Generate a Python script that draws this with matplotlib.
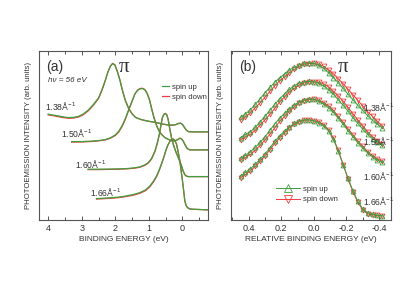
import matplotlib
matplotlib.use('Agg')
import matplotlib.pyplot as plt
from matplotlib.ticker import MultipleLocator

plt.rcParams['font.family'] = ['Liberation Sans', 'DejaVu Sans']
plt.rcParams['mathtext.fontset'] = 'custom'
plt.rcParams['mathtext.rm'] = 'Liberation Sans'
plt.rcParams['mathtext.it'] = 'Liberation Sans:italic'

green = '#3f9f3f'
red = '#f03c3c'
text_col = '#333333'
spine_col = '#555555'

# ---- panel (a): EDCs, binding energy (eV) and intensity (arb.)
a_labels = ['1.38', '1.50', '1.60', '1.66']

a_e_138 = [4.00, 3.85, 3.70, 3.55, 3.40, 3.25, 3.10, 2.95, 2.80, 2.65, 2.50, 2.40, 2.30, 2.22,
           2.15, 2.08, 2.01, 1.94, 1.86, 1.78, 1.70, 1.60, 1.50, 1.40, 1.25, 1.07, 0.90, 0.77,
           0.60, 0.45, 0.30, 0.20, 0.12, 0.06, 0.00, -0.06, -0.12, -0.18, -0.25, -0.78]
a_up_138 = [105.7, 104.8, 104.0, 103.0, 102.3, 102.5, 103.5, 106.0, 110.0, 115.5, 122.0, 130.0,
            139.5, 148.0, 153.5, 156.3, 154.5, 148.0, 139.0, 128.0, 119.0, 111.0, 106.0, 102.5,
            100.5, 99.0, 98.0, 97.3, 96.0, 95.0, 94.8, 95.2, 96.2, 96.7, 95.5, 92.5, 89.7, 88.3,
            88.0, 88.0]
a_dn_138 = [105.0, 104.2, 103.2, 102.3, 101.6, 101.8, 102.8, 105.2, 109.2, 114.8, 121.3, 129.3,
            139.0, 147.8, 153.6, 156.5, 155.0, 148.8, 139.8, 128.8, 119.6, 111.4, 106.2, 102.6,
            100.5, 99.0, 98.0, 97.1, 95.8, 95.0, 94.6, 95.3, 96.5, 96.8, 95.4, 92.2, 89.5, 88.2,
            88.0, 88.0]

a_e_150 = [3.30, 3.00, 2.70, 2.50, 2.30, 2.15, 2.00, 1.90, 1.80, 1.70, 1.60, 1.50, 1.42, 1.34,
           1.26, 1.19, 1.12, 1.05, 0.98, 0.92, 0.85, 0.77, 0.70, 0.63, 0.53, 0.43, 0.33, 0.23,
           0.15, 0.08, 0.03, -0.02, -0.08, -0.14, -0.22, -0.78]
a_up_150 = [78.3, 78.3, 78.8, 79.3, 80.3, 82.0, 85.0, 88.5, 94.0, 101.5, 110.5, 119.0, 125.7,
            129.5, 131.0, 131.3, 130.0, 126.0, 119.5, 111.0, 102.0, 94.0, 89.0, 85.7, 82.5, 80.7,
            79.3, 78.8, 80.0, 81.5, 81.0, 79.0, 75.0, 71.5, 70.0, 70.0]
a_dn_150 = [77.8, 77.9, 78.4, 79.0, 80.0, 81.6, 84.4, 87.8, 93.2, 100.6, 109.8, 118.6, 125.6,
            129.7, 131.4, 131.6, 130.4, 126.6, 120.2, 111.8, 102.8, 94.6, 89.3, 85.8, 82.4, 80.6,
            79.2, 78.9, 80.3, 81.8, 81.1, 78.8, 74.7, 71.3, 70.0, 70.0]

a_e_160 = [2.81, 2.50, 2.20, 1.90, 1.67, 1.45, 1.27, 1.12, 1.02, 0.92, 0.82, 0.75, 0.69, 0.64,
           0.60, 0.55, 0.51, 0.47, 0.43, 0.38, 0.33, 0.28, 0.23, 0.18, 0.13, 0.08, 0.03, -0.02,
           -0.07, -0.12, -0.17, -0.78]
a_up_160 = [50.7, 50.7, 50.8, 51.0, 51.3, 52.0, 53.0, 55.0, 57.3, 61.5, 69.0, 77.0, 85.7, 95.0,
            102.3, 105.5, 106.3, 105.0, 100.7, 91.0, 82.3, 76.0, 71.0, 66.5, 62.7, 58.5, 54.3,
            49.0, 45.3, 43.8, 43.3, 43.3]
a_dn_160 = [50.3, 50.3, 50.5, 50.7, 51.0, 51.6, 52.6, 54.5, 56.8, 60.8, 68.2, 76.2, 85.0, 94.6,
            102.2, 105.7, 106.5, 105.4, 101.3, 91.8, 83.0, 76.6, 71.4, 66.8, 62.8, 58.6, 54.2,
            48.8, 45.1, 43.7, 43.3, 43.3]

a_e_166 = [2.56, 2.30, 2.06, 1.85, 1.67, 1.45, 1.27, 1.10, 0.97, 0.87, 0.77, 0.70, 0.63, 0.56,
           0.50, 0.44, 0.38, 0.33, 0.28, 0.23, 0.18, 0.13, 0.08, 0.04, 0.00, -0.04, -0.07, -0.11,
           -0.15, -0.22, -0.29, -0.78]
a_up_166 = [21.3, 21.8, 22.3, 23.0, 24.0, 25.5, 27.3, 30.0, 34.0, 38.5, 44.0, 49.5, 55.7, 62.5,
            69.0, 74.5, 78.3, 80.2, 80.7, 79.5, 75.7, 68.0, 59.0, 49.0, 39.0, 28.0, 19.0, 14.5,
            12.3, 11.0, 10.7, 10.0]
a_dn_166 = [20.8, 21.3, 21.8, 22.5, 23.4, 24.8, 26.6, 29.2, 33.2, 37.6, 43.2, 48.8, 55.0, 62.0,
            68.6, 74.3, 78.2, 80.3, 81.0, 79.9, 76.2, 68.6, 59.6, 49.4, 39.2, 28.0, 18.8, 14.3,
            12.2, 11.0, 10.7, 10.0]

# ---- panel (b): relative binding energy (eV)
b_e = [0.45, 0.42, 0.39, 0.36, 0.33, 0.30, 0.27, 0.24, 0.21, 0.18, 0.15, 0.12, 0.09, 0.06, 0.03,
       0.00, -0.03, -0.06, -0.09, -0.12, -0.15, -0.18, -0.21, -0.24, -0.27, -0.30, -0.33, -0.36,
       -0.39, -0.42]

b_up_138 = [102.5, 106, 110, 115.5, 121, 127, 132.5, 137.5, 142, 146, 150, 152.5, 155, 156.5, 157,
            156.5, 154.5, 151.5, 147, 142, 137, 131.5, 125.5, 120, 114.5, 109.5, 104, 99.5, 95.5, 92]
b_dn_138 = [100, 103, 107, 112, 117, 122.5, 128.5, 134, 139, 143, 147, 150.5, 153.5, 155.5, 156.3,
            156.5, 155.5, 153.5, 150, 146, 141, 136, 130.5, 125, 119.5, 114, 108, 103.5, 98.5, 94]

b_up_150 = [82, 85.5, 88, 92.5, 98, 103.5, 109.5, 115.5, 121, 126, 130.5, 134, 137, 138, 138.5,
            138, 136.5, 134, 130, 125.5, 120, 114.5, 108.5, 102, 96.5, 90.5, 85.5, 81, 78, 74.5]
b_dn_150 = [80, 83, 85.5, 89.5, 95, 100, 105.5, 111.5, 118, 123, 128, 131.5, 135, 137, 138,
            138, 137.5, 136, 133, 128.5, 124, 118.5, 112.5, 106, 100, 94, 88, 83, 79, 75.5]

b_up_160 = [62, 64.5, 68, 72.5, 77.5, 83, 89.5, 96, 101.5, 106.5, 111, 115, 118, 120, 121,
            120.5, 118.5, 116, 112, 107.5, 101.5, 95.5, 89, 83, 77, 71.5, 67, 63, 60, 57.5]
b_dn_160 = [60, 62.5, 65.5, 69.5, 74.5, 80, 85.5, 92, 98.5, 103.5, 109, 113, 117, 119, 120.3,
            120.5, 119.5, 117, 114, 109.5, 103.5, 97.5, 91, 85, 79, 73.5, 68, 64, 61, 58.5]

b_up_166 = [44, 47.5, 51, 55.5, 60.5, 66, 72, 78.5, 84, 89, 93, 96.5, 99, 100, 100,
            99, 97, 94, 89, 80.5, 68.5, 55, 41.5, 29, 18.5, 11, 7, 5.5, 4.5, 4]
b_dn_166 = [42, 45.5, 49, 53.5, 58.5, 64, 70, 76.5, 82, 87, 92, 95.5, 98, 99.5, 100,
            99, 98, 95, 90, 81.5, 69.5, 55, 40.5, 28, 17.5, 10, 6, 5, 4.5, 4]


def style_axis(ax, major, minor):
    for s in ax.spines.values():
        s.set_color(spine_col)
        s.set_linewidth(0.8)
    ax.xaxis.set_major_locator(MultipleLocator(major))
    ax.xaxis.set_minor_locator(MultipleLocator(minor))
    ax.tick_params(axis='x', which='both', direction='in', top=True, colors=spine_col,
                   labelcolor=text_col, labelsize=6.5, width=0.7, pad=3)
    ax.tick_params(axis='x', which='major', length=3)
    ax.tick_params(axis='x', which='minor', length=2)
    ax.set_yticks([])
    ax.set_ylabel('PHOTOEMISSION INTENSITY (arb. units)', fontsize=5.6, color=text_col, labelpad=5)


def k_label(v):
    return v + 'Å$^{-1}$'


fig = plt.figure(figsize=(4.15, 2.94), dpi=100)
ax1 = fig.add_axes([0.095, 0.252, 0.407, 0.575])
ax2 = fig.add_axes([0.556, 0.252, 0.385, 0.575])

# panel (a)
a_curves = [(a_e_138, a_up_138, a_dn_138), (a_e_150, a_up_150, a_dn_150),
            (a_e_160, a_up_160, a_dn_160), (a_e_166, a_up_166, a_dn_166)]
for i, (e, up, dn) in enumerate(a_curves):
    ax1.plot(e, dn, color=red, lw=0.9, label='spin down' if i == 0 else None)
    ax1.plot(e, up, color=green, lw=0.9, label='spin up' if i == 0 else None)

ax1.set_xlim(4.26, -0.77)
ax1.set_ylim(0, 169)
style_axis(ax1, 1, 0.5)
ax1.set_xlabel('BINDING ENERGY (eV)', fontsize=6, color=text_col, labelpad=2)

a_label_pos = [(4.08, 114), (3.63, 87), (3.20, 56), (2.76, 28)]
for lab, (x, y) in zip(a_labels, a_label_pos):
    ax1.text(x, y, k_label(lab), fontsize=6.2, color=text_col, va='center', ha='left')

ax1.text(0.04, 0.905, '(a)', transform=ax1.transAxes, fontsize=10, color=text_col, va='center')
ax1.text(0.05, 0.825, 'hν = 56 eV', transform=ax1.transAxes, fontsize=5.8,
         style='italic', color=text_col, va='center')
ax1.text(0.5, 0.9, 'π', transform=ax1.transAxes, fontsize=15, color=text_col,
         va='center', ha='center', family=['Liberation Serif'])

h, l = ax1.get_legend_handles_labels()
ax1.legend([h[1], h[0]], [l[1], l[0]], loc='upper left', bbox_to_anchor=(0.7, 0.83),
           frameon=False, fontsize=5.6, handlelength=1.0, handletextpad=0.4,
           borderpad=0, labelspacing=0.35, labelcolor=text_col)

# panel (b)
b_labels = ['1.38', '1.50', '1.60', '1.66']
b_curves = [(b_up_138, b_dn_138), (b_up_150, b_dn_150), (b_up_160, b_dn_160),
            (b_up_166, b_dn_166)]
for i, (up, dn) in enumerate(b_curves):
    ax2.plot(b_e, dn, color=red, lw=0.7, marker='v', ms=3.5, mfc='none', mew=0.6,
             label='spin down' if i == 0 else None)
    ax2.plot(b_e, up, color=green, lw=0.7, marker='^', ms=3.5, mfc='none', mew=0.6,
             label='spin up' if i == 0 else None)

ax2.set_xlim(0.51, -0.47)
ax2.set_ylim(0, 169)
style_axis(ax2, 0.2, 0.1)
ax2.xaxis.set_major_formatter(plt.FuncFormatter(lambda v, p: f'{v:.1f}'.replace('-0.0', '0.0')))
ax2.set_xlabel('RELATIVE BINDING ENERGY (eV)', fontsize=6, color=text_col, labelpad=2)

b_label_y = [0.670, 0.469, 0.260, 0.112]
for lab, y in zip(b_labels, b_label_y):
    ax2.text(0.825, y, k_label(lab), transform=ax2.transAxes, fontsize=6.2,
             color=text_col, va='center', ha='left')

ax2.text(0.05, 0.905, '(b)', transform=ax2.transAxes, fontsize=10, color=text_col, va='center')
ax2.text(0.70, 0.9, 'π', transform=ax2.transAxes, fontsize=15, color=text_col,
         va='center', ha='center', family=['Liberation Serif'])

h, l = ax2.get_legend_handles_labels()
ax2.legend([h[1], h[0]], [l[1], l[0]], loc='upper left', bbox_to_anchor=(0.26, 0.225),
           frameon=False, fontsize=5.6, handlelength=3.0, handletextpad=0.4,
           borderpad=0, labelspacing=0.35, labelcolor=text_col, markerscale=1.5)

fig.savefig('out.png', dpi=100)
